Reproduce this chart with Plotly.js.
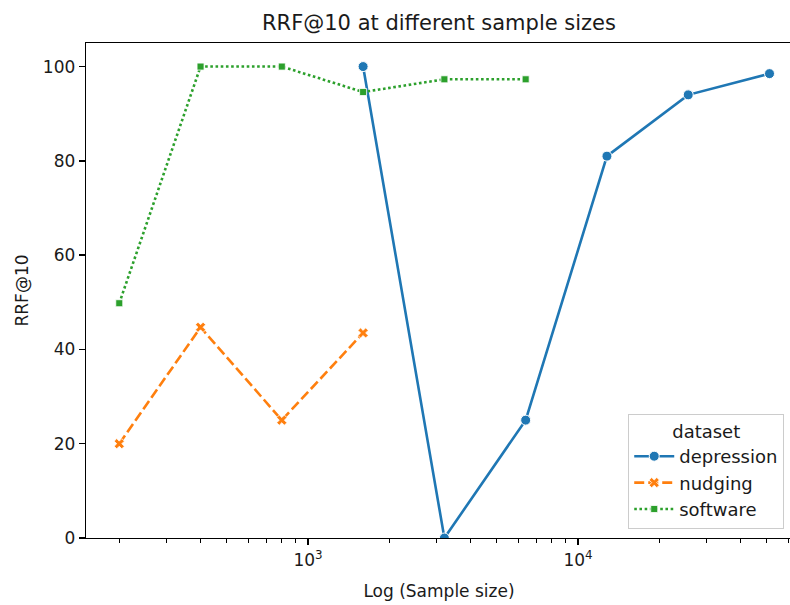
<!DOCTYPE html>
<html>
<head>
<meta charset="utf-8">
<script src="https://cdn.plot.ly/plotly-3.0.1.min.js"></script>
<style>html,body{margin:0;padding:0;overflow:hidden;background:#fff;}</style>
</head>
<body>
<div id="chart"></div>
<script>
// Data
const depressionSizes = [1600, 3200, 6400, 12800, 25600, 51200];
const depressionRRF   = [100, 0, 25, 81, 94, 98.5];
const nudgingSizes    = [200, 400, 800, 1600];
const nudgingRRF      = [20, 44.7, 25, 43.5];
const softwareSizes   = [200, 400, 800, 1600, 3200, 6400];
const softwareRRF     = [49.8, 100, 100, 94.6, 97.3, 97.3];

const xMajorTicks = [1000, 10000];
const xMajorLabels = ['10<sup>3</sup>', '10<sup>4</sup>'];
const xMinorTicks = [200,300,400,500,600,700,800,900,2000,3000,4000,5000,6000,7000,8000,9000,20000,30000,40000,50000,60000];
const yTicks = [0, 20, 40, 60, 80, 100];

const FONT = 'DejaVu Sans, sans-serif';
const TXT = '#1a1a1a';

const traces = [
  {
    name: 'depression', x: depressionSizes, y: depressionRRF, legendgroup: 'g1',
    type: 'scatter', mode: 'lines+markers',
    line: {color: '#1f77b4', width: 2.6},
    marker: {symbol: 'circle', size: 10, color: '#1f77b4', line: {color: '#ffffff', width: 1}}
  },
  {
    name: 'nudging', x: nudgingSizes, y: nudgingRRF, legendgroup: 'g2',
    type: 'scatter', mode: 'lines+markers',
    line: {color: '#ff7f0e', width: 2.6, dash: '10px,4px'},
    marker: {symbol: 'x', size: 9, color: '#ff7f0e', line: {color: '#ffffff', width: 0.8}}
  },
  {
    name: 'software', x: softwareSizes, y: softwareRRF, legendgroup: 'g3',
    type: 'scatter', mode: 'lines+markers',
    line: {color: '#2ca02c', width: 2.6, dash: '2.6px,2.6px'},
    marker: {symbol: 'square', size: 7, color: '#2ca02c', line: {color: '#ffffff', width: 0.8}}
  }
];

const layout = {
  width: 794, height: 605,
  margin: {l: 86, r: 2, t: 43, b: 67},
  paper_bgcolor: '#ffffff', plot_bgcolor: '#ffffff',
  font: {family: FONT, size: 17, color: TXT},
  title: {text: 'RRF@10 at different sample sizes', font: {family: FONT, size: 21, color: TXT},
          x: 0.5, xref: 'paper', xanchor: 'center', y: 0.962, yref: 'container', yanchor: 'middle'},
  xaxis: {
    type: 'log', range: [2.1778, 4.7926],
    tickvals: xMajorTicks, ticktext: xMajorLabels,
    ticks: 'outside', ticklen: 6, tickwidth: 1.3, tickcolor: '#000',
    showline: true, linecolor: '#000', linewidth: 1.3, mirror: true,
    showgrid: false, zeroline: false,
    tickfont: {family: FONT, size: 17, color: TXT},
    minor: {tickvals: xMinorTicks, ticks: 'outside', ticklen: 3.5, tickwidth: 1, tickcolor: '#000', showgrid: false},
    title: {text: 'Log (Sample size)', font: {family: FONT, size: 17, color: TXT}, standoff: 16}
  },
  yaxis: {
    range: [0, 105],
    tickvals: yTicks,
    ticks: 'outside', ticklen: 6, tickwidth: 1.3, tickcolor: '#000',
    showline: true, linecolor: '#000', linewidth: 1.3, mirror: true,
    showgrid: false, zeroline: false,
    tickfont: {family: FONT, size: 17, color: TXT},
    title: {text: 'RRF@10', font: {family: FONT, size: 17, color: TXT}, standoff: 10}
  },
  showlegend: true,
  legend: {
    x: 0.989, xanchor: 'right', y: 0.019, yanchor: 'bottom',
    bgcolor: 'rgba(255,255,255,0.85)', bordercolor: '#cccccc', borderwidth: 1,
    font: {family: FONT, size: 18, color: TXT},
    itemwidth: 40,
    title: {text: 'dataset', side: 'top center', font: {family: FONT, size: 18, color: TXT}},
    tracegroupgap: 0
  }
};

Plotly.newPlot('chart', traces, layout, {displayModeBar: false, staticPlot: true});
</script>
</body>
</html>
